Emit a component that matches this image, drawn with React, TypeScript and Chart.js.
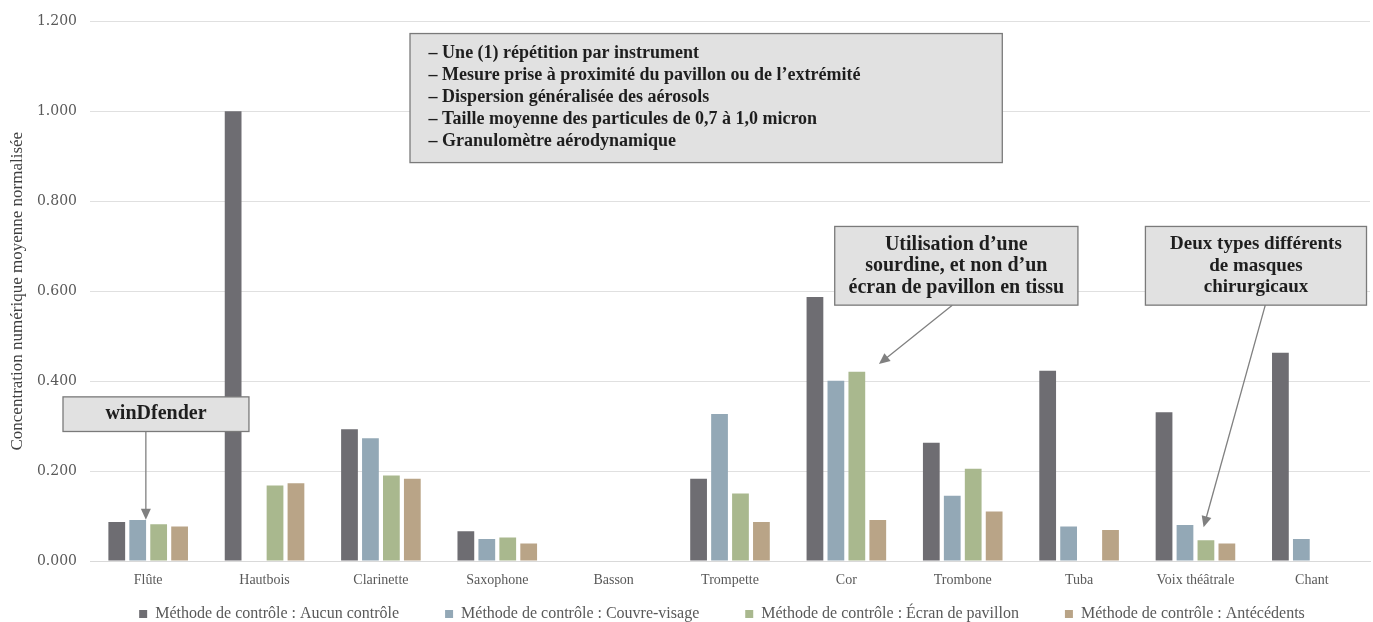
import React, { useEffect, useRef } from "react";
import { Chart, registerables } from "chart.js";

Chart.register(...registerables);

const categories = [
  "Flûte",
  "Hautbois",
  "Clarinette",
  "Saxophone",
  "Basson",
  "Trompette",
  "Cor",
  "Trombone",
  "Tuba",
  "Voix théâtrale",
  "Chant",
];

const seriesLabels = [
  "Méthode de contrôle : Aucun contrôle",
  "Méthode de contrôle : Couvre-visage",
  "Méthode de contrôle : Écran de pavillon",
  "Méthode de contrôle : Antécédents",
];

const aucunControle = [0.087, 1.0, 0.293, 0.066, null, 0.183, 0.587, 0.263, 0.423, 0.331, 0.463];
const couvreVisage = [0.091, null, 0.273, 0.049, null, 0.327, 0.401, 0.145, 0.077, 0.08, 0.049];
const ecranPavillon = [0.082, 0.168, 0.19, 0.052, null, 0.15, 0.421, 0.205, null, 0.046, null];
const antecedents = [0.077, 0.173, 0.183, 0.039, null, 0.087, 0.091, 0.11, 0.069, 0.039, null];

const seriesColors = ["#6e6d72", "#93a8b6", "#a9b88e", "#b9a487"];

const yAxisTitle = "Concentration numérique moyenne normalisée";

const noteLines = [
  "– Une (1) répétition par instrument",
  "– Mesure prise à proximité du pavillon ou de l’extrémité",
  "– Dispersion généralisée des aérosols",
  "– Taille moyenne des particules de 0,7 à 1,0 micron",
  "– Granulomètre aérodynamique",
];
const windfenderLines = ["winDfender"];
const sourdineLines = ["Utilisation d’une", "sourdine, et non d’un", "écran de pavillon en tissu"];
const masquesLines = ["Deux types différents", "de masques", "chirurgicaux"];

const SERIF = '"Liberation Serif", "DejaVu Serif", serif';
const WIDE_SERIF = '"DejaVu Serif", "Liberation Serif", serif';

function drawArrow(ctx: CanvasRenderingContext2D, x1: number, y1: number, x2: number, y2: number) {
  const ang = Math.atan2(y2 - y1, x2 - x1);
  const hl = 11;
  const hw = 5;
  ctx.save();
  ctx.strokeStyle = "#808080";
  ctx.fillStyle = "#808080";
  ctx.lineWidth = 1.3;
  ctx.beginPath();
  ctx.moveTo(x1, y1);
  ctx.lineTo(x2 - Math.cos(ang) * hl * 0.8, y2 - Math.sin(ang) * hl * 0.8);
  ctx.stroke();
  ctx.beginPath();
  ctx.moveTo(x2, y2);
  ctx.lineTo(
    x2 - Math.cos(ang) * hl - Math.sin(ang) * hw,
    y2 - Math.sin(ang) * hl + Math.cos(ang) * hw
  );
  ctx.lineTo(
    x2 - Math.cos(ang) * hl + Math.sin(ang) * hw,
    y2 - Math.sin(ang) * hl - Math.cos(ang) * hw
  );
  ctx.closePath();
  ctx.fill();
  ctx.restore();
}

function drawBox(
  ctx: CanvasRenderingContext2D,
  l: number,
  t: number,
  r: number,
  b: number,
  lines: string[],
  opts: { align: "left" | "center"; textX: number; firstY: number; step: number; size: number }
) {
  ctx.save();
  ctx.fillStyle = "#e1e1e1";
  ctx.fillRect(l, t, r - l, b - t);
  ctx.strokeStyle = "#7a7a7a";
  ctx.lineWidth = 1.3;
  ctx.strokeRect(l, t, r - l, b - t);
  ctx.fillStyle = "#1e1e1e";
  ctx.font = `bold ${opts.size}px ${SERIF}`;
  ctx.textAlign = opts.align;
  ctx.textBaseline = "middle";
  lines.forEach((s, i) => ctx.fillText(s, opts.textX, t + opts.firstY + i * opts.step));
  ctx.restore();
}

const annotationPlugin = {
  id: "annotations",
  afterLayout(chart: any) {
    // place the legend row just under the plot, overlapping the tick label band
    const lg = chart.legend;
    if (lg && chart.chartArea) {
      lg.top = chart.chartArea.bottom - 1;
      lg.bottom = lg.top + 100;
      lg.left = 71;
      lg.right = chart.width;
    }
  },
  afterDraw(chart: any) {
    const { ctx } = chart;
    const x = chart.scales.x;
    const y = chart.scales.y;
    const X = (c: number) => x.getPixelForValue(c);
    const Y = (v: number) => y.getPixelForValue(v);

    // general notes box
    drawBox(ctx, X(2.25), Y(1.173), X(7.34), Y(0.886), noteLines, {
      align: "left",
      textX: X(2.41),
      firstY: 20,
      step: 22,
      size: 18,
    });

    // winDfender
    drawArrow(ctx, X(-0.02), Y(0.288), X(-0.02), Y(0.092));
    drawBox(ctx, X(-0.732), Y(0.365), X(0.866), Y(0.288), windfenderLines, {
      align: "center",
      textX: X(0.067),
      firstY: 17,
      step: 22,
      size: 20,
    });

    // sourdine
    drawArrow(ctx, X(6.91), Y(0.569), X(6.28), Y(0.438));
    drawBox(ctx, X(5.9), Y(0.744), X(7.99), Y(0.569), sourdineLines, {
      align: "center",
      textX: X(6.945),
      firstY: 18,
      step: 21.5,
      size: 20,
    });

    // masques
    drawArrow(ctx, X(9.6), Y(0.569), X(9.07), Y(0.075));
    drawBox(ctx, X(8.57), Y(0.744), X(10.47), Y(0.569), masquesLines, {
      align: "center",
      textX: X(9.52),
      firstY: 18,
      step: 21.5,
      size: 19,
    });
  },
};

export default function App() {
  const canvasRef = useRef<HTMLCanvasElement | null>(null);

  useEffect(() => {
    if (!canvasRef.current) return;
    const data = [aucunControle, couvreVisage, ecranPavillon, antecedents];
    const chart = new Chart(canvasRef.current, {
      type: "bar",
      data: {
        labels: categories,
        datasets: data.map((d, i) => ({
          label: seriesLabels[i],
          data: d,
          backgroundColor: seriesColors[i],
          borderWidth: 0,
          categoryPercentage: 0.72,
          barPercentage: 0.8,
        })),
      },
      options: {
        animation: false,
        responsive: true,
        maintainAspectRatio: false,
        layout: { padding: { top: 19, right: 3, left: 0, bottom: 0 } },
        plugins: {
          tooltip: { enabled: false },
          legend: {
            position: "bottom",
            maxHeight: 31,
            labels: {
              boxWidth: 8,
              boxHeight: 8,
              padding: 46,
              color: "#595959",
              font: { family: SERIF, size: 16 },
            },
          },
        },
        scales: {
          x: {
            grid: { display: false },
            border: { display: true, color: "#d9d9d9" },
            ticks: {
              color: "#595959",
              font: { family: SERIF, size: 14 },
              padding: 3,
              maxRotation: 0,
              autoSkip: false,
            },
            afterFit: (scale: any) => {
              scale.height = 30;
            },
          },
          y: {
            min: 0,
            max: 1.2,
            border: { display: false },
            grid: { color: "#e0e0e0", drawTicks: false },
            ticks: {
              stepSize: 0.2,
              color: "#595959",
              padding: 13,
              font: { family: WIDE_SERIF, size: 14 },
              callback: (v: any) => Number(v).toFixed(3),
            },
            title: {
              display: true,
              text: yAxisTitle,
              color: "#404040",
              font: { family: SERIF, size: 17 },
              padding: { top: 7, bottom: 0 },
            },
            afterFit: (scale: any) => {
              scale.width = 90;
            },
          },
        },
      },
      plugins: [annotationPlugin],
    });
    return () => chart.destroy();
  }, []);

  return (
    <div style={{ position: "absolute", left: 0, top: 0, width: 1373, height: 622, background: "#fff" }}>
      <canvas ref={canvasRef} />
    </div>
  );
}
